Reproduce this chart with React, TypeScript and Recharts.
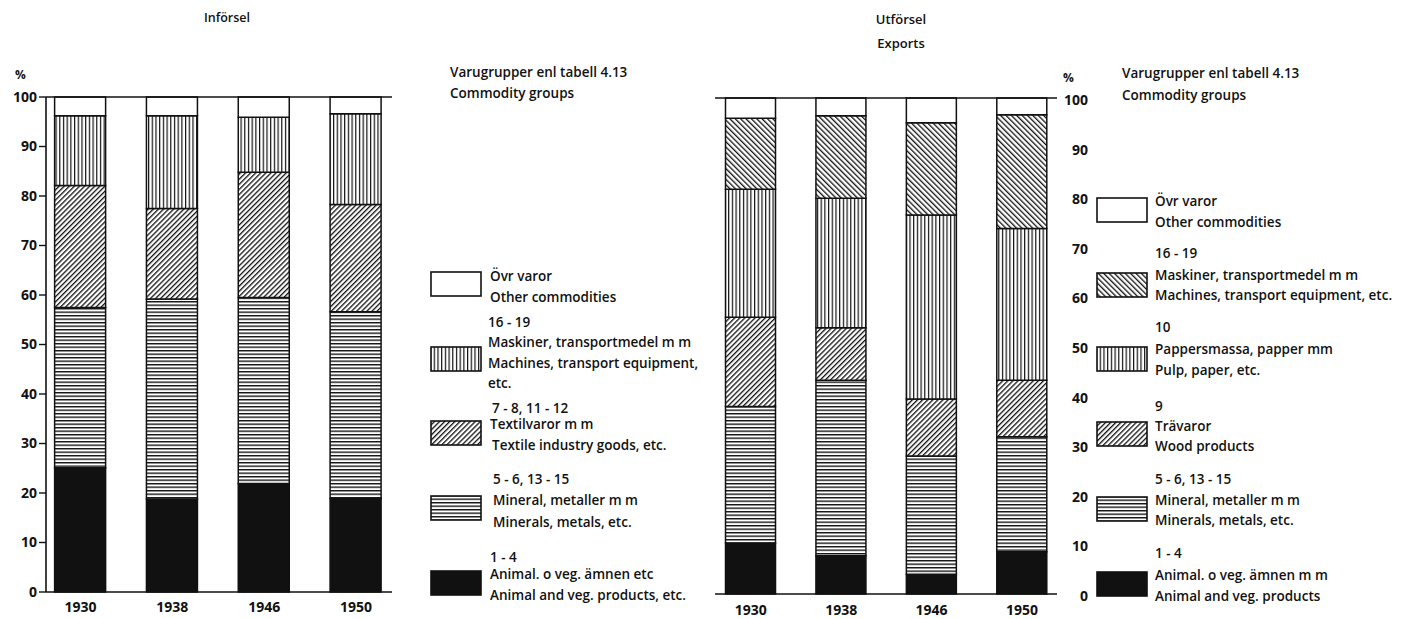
import React from 'react';
import { BarChart, Bar, XAxis, YAxis, ReferenceLine } from 'recharts';

const FONT = '"Open Sans", "DejaVu Sans", sans-serif';
const INK = '#111';

// years shown under both panels
const years = ['1930', '1938', '1946', '1950'];
const pctTicks = [0, 10, 20, 30, 40, 50, 60, 70, 80, 90, 100];
const stripTicks = [10, 20, 30, 40, 50, 60, 70, 80, 90];

// Införsel (imports), % share by commodity group
const impAnimal = [25.1, 18.8, 21.9, 18.9];
const impMinerals = [32.4, 40.4, 37.6, 37.7];
const impTextile = [24.6, 18.3, 25.3, 21.7];
const impMachines = [14.1, 18.7, 11.1, 18.3];
const impOther = [3.8, 3.8, 4.1, 3.4];

// Utförsel (exports), % share by commodity group
const expAnimal = [10.3, 7.7, 4.0, 8.5];
const expMinerals = [27.5, 35.4, 23.8, 23.2];
const expWood = [18.0, 10.6, 11.5, 11.4];
const expPulp = [25.8, 26.1, 37.1, 30.6];
const expMachines = [14.3, 16.6, 18.6, 22.9];
const expOther = [4.1, 3.6, 5.0, 3.4];

const importRows = years.map((year, i) => ({
  slot: i,
  year,
  animal: impAnimal[i],
  minerals: impMinerals[i],
  textile: impTextile[i],
  machines: impMachines[i],
  other: impOther[i],
}));

const exportRows = years.map((year, i) => ({
  slot: i,
  year,
  animal: expAnimal[i],
  minerals: expMinerals[i],
  wood: expWood[i],
  pulp: expPulp[i],
  machines: expMachines[i],
  other: expOther[i],
}));

const renderPatterns = (p: string) => (
  <defs>
    <pattern id={`${p}-h`} width={4} height={3.5} patternUnits="userSpaceOnUse">
      <rect width={4} height={3.5} fill="#fff" />
      <rect width={4} height={1.4} fill={INK} />
    </pattern>
    <pattern id={`${p}-v`} width={3.7} height={4} patternUnits="userSpaceOnUse">
      <rect width={3.7} height={4} fill="#fff" />
      <rect width={1.2} height={4} fill={INK} />
    </pattern>
    <pattern id={`${p}-f`} width={3.6} height={4} patternUnits="userSpaceOnUse" patternTransform="rotate(45)">
      <rect width={3.6} height={4} fill="#fff" />
      <rect width={1.3} height={4} fill={INK} />
    </pattern>
    <pattern id={`${p}-b`} width={3.8} height={4} patternUnits="userSpaceOnUse" patternTransform="rotate(-45)">
      <rect width={3.8} height={4} fill="#fff" />
      <rect width={1.3} height={4} fill={INK} />
    </pattern>
  </defs>
);

const Swatch = ({ id, fill, x, y }: { id: string; fill: string; x: number; y: number }) => (
  <svg width={52} height={26} style={{ position: 'absolute', left: x, top: y }}>
    {renderPatterns(id)}
    <rect
      x={1}
      y={1}
      width={50}
      height={24}
      fill={fill === 'white' ? '#fff' : fill === 'black' ? INK : `url(#${id}-${fill})`}
      stroke={INK}
      strokeWidth={1.6}
    />
  </svg>
);

const T = ({
  x,
  y,
  children,
  size = 13.5,
  weight = 600,
  center = false,
}: {
  x: number;
  y: number;
  children: React.ReactNode;
  size?: number;
  weight?: number;
  center?: boolean;
}) => (
  <div
    style={{
      position: 'absolute',
      left: x,
      top: y - 10,
      lineHeight: '20px',
      fontSize: size,
      fontWeight: weight,
      fontFamily: FONT,
      color: INK,
      whiteSpace: 'nowrap',
      transform: center ? 'translateX(-50%)' : undefined,
    }}
  >
    {children}
  </div>
);

const tickStyle = { fontSize: 14, fontWeight: 700, fill: INK, fontFamily: FONT };
const barStroke = { stroke: INK, strokeWidth: 1.5 };

const App = () => {
  return (
    <div style={{ position: 'absolute', left: 0, top: 0, width: 1409, height: 619, background: '#fff', overflow: 'hidden' }}>
      {/* Införsel */}
      <div style={{ position: 'absolute', left: 0, top: 0 }}>
        <BarChart width={420} height={619} data={importRows} margin={{ top: 97, right: 28, bottom: 0, left: 6 }}>
          {renderPatterns('imp')}
          <XAxis
            dataKey="slot"
            type="number"
            domain={[-0.376, 3.392]}
            ticks={[0, 1, 2, 3]}
            interval={0}
            tickFormatter={(i: number) => years[i]}
            height={27}
            tickSize={0}
            tickMargin={10}
            tickLine={false}
            axisLine={{ stroke: INK, strokeWidth: 1.6 }}
            tick={tickStyle}
          />
          <YAxis
            yAxisId="main"
            domain={[0, 100]}
            ticks={pctTicks}
            interval={0}
            width={40}
            tickSize={7}
            tickMargin={2}
            axisLine={{ stroke: INK, strokeWidth: 1.6 }}
            tickLine={{ stroke: INK, strokeWidth: 1.4 }}
            tick={tickStyle}
          />
          <YAxis
            yAxisId="strip"
            orientation="right"
            mirror
            domain={[0, 100]}
            ticks={stripTicks}
            interval={0}
            width={0}
            tickSize={10}
            tickFormatter={() => ''}
            axisLine={{ stroke: INK, strokeWidth: 1.6 }}
            tickLine={{ stroke: INK, strokeWidth: 1.4 }}
          />
          <ReferenceLine yAxisId="main" y={100} stroke={INK} strokeWidth={1.6} />
          <Bar yAxisId="main" dataKey="animal" stackId="s" barSize={51} fill={INK} {...barStroke} isAnimationActive={false} />
          <Bar yAxisId="main" dataKey="minerals" stackId="s" barSize={51} fill="url(#imp-h)" {...barStroke} isAnimationActive={false} />
          <Bar yAxisId="main" dataKey="textile" stackId="s" barSize={51} fill="url(#imp-f)" {...barStroke} isAnimationActive={false} />
          <Bar yAxisId="main" dataKey="machines" stackId="s" barSize={51} fill="url(#imp-v)" {...barStroke} isAnimationActive={false} />
          <Bar yAxisId="main" dataKey="other" stackId="s" barSize={51} fill="#fff" {...barStroke} isAnimationActive={false} />
        </BarChart>
      </div>

      {/* Utförsel */}
      <div style={{ position: 'absolute', left: 680, top: 0 }}>
        <BarChart width={420} height={619} data={exportRows} margin={{ top: 98, right: 0, bottom: 0, left: 35 }}>
          {renderPatterns('exp')}
          <XAxis
            dataKey="slot"
            type="number"
            domain={[-0.395, 3.387]}
            ticks={[0, 1, 2, 3]}
            interval={0}
            tickFormatter={(i: number) => years[i]}
            height={25}
            tickSize={0}
            tickMargin={11}
            tickLine={false}
            axisLine={{ stroke: INK, strokeWidth: 1.6 }}
            tick={tickStyle}
          />
          <YAxis
            yAxisId="stripL"
            orientation="left"
            mirror
            domain={[0, 100]}
            ticks={stripTicks}
            interval={0}
            width={0}
            tickSize={10}
            tickFormatter={() => ''}
            axisLine={{ stroke: INK, strokeWidth: 1.6 }}
            tickLine={{ stroke: INK, strokeWidth: 1.4 }}
          />
          <YAxis
            yAxisId="stripR"
            orientation="right"
            mirror
            domain={[0, 100]}
            ticks={stripTicks}
            interval={0}
            width={0}
            tickSize={10}
            tickFormatter={() => ''}
            axisLine={{ stroke: INK, strokeWidth: 1.6 }}
            tickLine={{ stroke: INK, strokeWidth: 1.4 }}
          />
          <YAxis
            yAxisId="main"
            orientation="right"
            domain={[0, 100]}
            ticks={pctTicks}
            interval={0}
            width={43}
            tickSize={0}
            tickMargin={31}
            axisLine={false}
            tickLine={false}
            tick={(p: any) => (
              <text x={p.x} y={p.y} dy={7} textAnchor="end" {...tickStyle}>
                {p.payload.value}
              </text>
            )}
          />
          <ReferenceLine yAxisId="main" y={100} stroke={INK} strokeWidth={1.6} />
          <Bar yAxisId="main" dataKey="animal" stackId="s" barSize={50} fill={INK} {...barStroke} isAnimationActive={false} />
          <Bar yAxisId="main" dataKey="minerals" stackId="s" barSize={50} fill="url(#exp-h)" {...barStroke} isAnimationActive={false} />
          <Bar yAxisId="main" dataKey="wood" stackId="s" barSize={50} fill="url(#exp-f)" {...barStroke} isAnimationActive={false} />
          <Bar yAxisId="main" dataKey="pulp" stackId="s" barSize={50} fill="url(#exp-v)" {...barStroke} isAnimationActive={false} />
          <Bar yAxisId="main" dataKey="machines" stackId="s" barSize={50} fill="url(#exp-b)" {...barStroke} isAnimationActive={false} />
          <Bar yAxisId="main" dataKey="other" stackId="s" barSize={50} fill="#fff" {...barStroke} isAnimationActive={false} />
        </BarChart>
      </div>

      {/* titles and unit marks */}
      <T x={227} y={18} size={12.5} center>Införsel</T>
      <T x={901} y={19} size={13} center>Utförsel</T>
      <T x={901} y={43} size={13} center>Exports</T>
      <T x={15} y={75} size={12} weight={700}>%</T>
      <T x={1063} y={78} size={12} weight={700}>%</T>

      {/* import legend */}
      <T x={450} y={72}>Varugrupper enl tabell 4.13</T>
      <T x={450} y={93}>Commodity groups</T>
      <Swatch id="li1" fill="white" x={430} y={271} />
      <T x={490} y={276}>Övr varor</T>
      <T x={490} y={297}>Other commodities</T>
      <T x={488} y={322}>16 - 19</T>
      <T x={488} y={342}>Maskiner, transportmedel m m</T>
      <Swatch id="li2" fill="v" x={430} y={346} />
      <T x={488} y={363}>Machines, transport equipment,</T>
      <T x={488} y={383}>etc.</T>
      <T x={492} y={408}>7 - 8, 11 - 12</T>
      <T x={490} y={424}>Textilvaror m m</T>
      <Swatch id="li3" fill="f" x={430} y={420} />
      <T x={492} y={445}>Textile industry goods, etc.</T>
      <T x={493} y={479}>5 - 6, 13 - 15</T>
      <T x={493} y={500}>Mineral, metaller m m</T>
      <Swatch id="li4" fill="h" x={430} y={495} />
      <T x={493} y={522}>Minerals, metals, etc.</T>
      <T x={490} y={557}>1 - 4</T>
      <T x={490} y={574}>Animal. o veg. ämnen etc</T>
      <Swatch id="li5" fill="black" x={430} y={570} />
      <T x={490} y={595}>Animal and veg. products, etc.</T>

      {/* export legend */}
      <T x={1122} y={73}>Varugrupper enl tabell 4.13</T>
      <T x={1122} y={95}>Commodity groups</T>
      <Swatch id="le1" fill="white" x={1096} y={197} />
      <T x={1155} y={201}>Övr varor</T>
      <T x={1155} y={222}>Other commodities</T>
      <T x={1155} y={253}>16 - 19</T>
      <T x={1155} y={275}>Maskiner, transportmedel m m</T>
      <Swatch id="le2" fill="b" x={1096} y={272} />
      <T x={1155} y={295}>Machines, transport equipment, etc.</T>
      <T x={1155} y={327}>10</T>
      <T x={1155} y={349}>Pappersmassa, papper mm</T>
      <Swatch id="le3" fill="v" x={1096} y={346} />
      <T x={1155} y={370}>Pulp, paper, etc.</T>
      <T x={1155} y={406}>9</T>
      <T x={1155} y={426}>Trävaror</T>
      <Swatch id="le4" fill="f" x={1096} y={421} />
      <T x={1155} y={446}>Wood products</T>
      <T x={1155} y={479}>5 - 6, 13 - 15</T>
      <T x={1155} y={500}>Mineral, metaller m m</T>
      <Swatch id="le5" fill="h" x={1096} y={496} />
      <T x={1155} y={520}>Minerals, metals, etc.</T>
      <T x={1155} y={553}>1 - 4</T>
      <T x={1155} y={575}>Animal. o veg. ämnen m m</T>
      <Swatch id="le6" fill="black" x={1096} y={571} />
      <T x={1155} y={596}>Animal and veg. products</T>
    </div>
  );
};

export default App;
